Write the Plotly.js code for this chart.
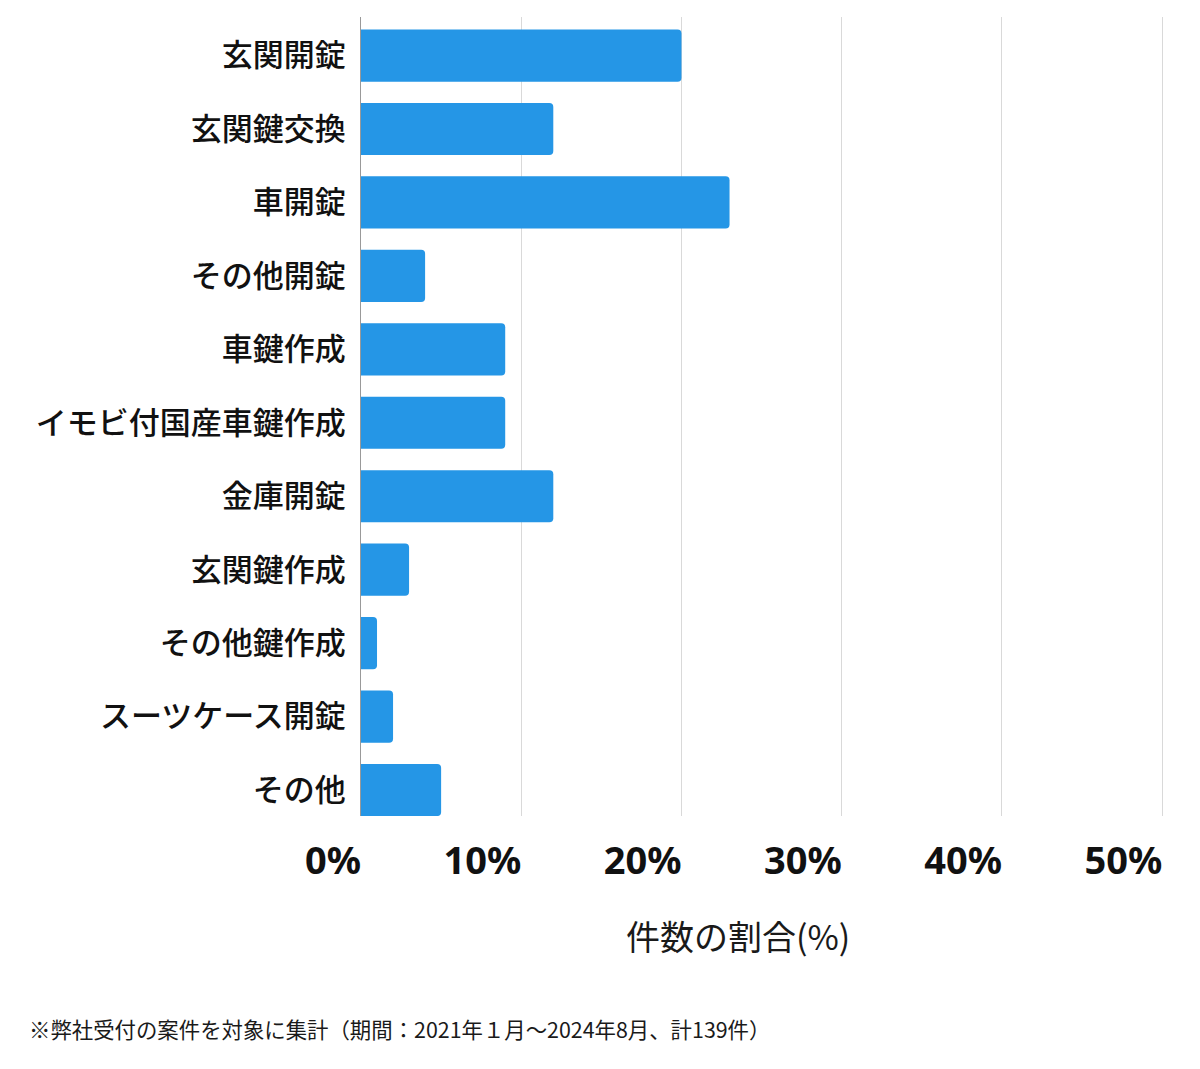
<!DOCTYPE html>
<html>
<head>
<meta charset="utf-8">
<script src="https://cdn.plot.ly/plotly-3.0.1.min.js"></script>
<style>
html,body{margin:0;padding:0;background:#fff;}
#chart{width:1200px;height:1069px;}
</style>
</head>
<body>
<div id="chart"></div>
<script>
const categories = ["玄関開錠","玄関鍵交換","車開錠","その他開錠","車鍵作成","イモビ付国産車鍵作成","金庫開錠","玄関鍵作成","その他鍵作成","スーツケース開錠","その他"];
const shares = [20, 12, 23, 4, 9, 9, 12, 3, 1, 2, 5];
const xTickValues = [0, 10, 20, 30, 40, 50];
const xTickLabels = ["0%", "10%", "20%", "30%", "40%", "50%"];
const xTitle = "件数の割合(%)";
const footnote = "※弊社受付の案件を対象に集計（期間：2021年１月～2024年8月、計139件）";

const W = 1200, H = 1069;
const L = 361, R = 33, T = 17, B = 253;
const pw = W - L - R, ph = H - T - B;

const trace = {
  type: "bar",
  orientation: "h",
  y: categories,
  x: shares,
  marker: {color: "#2596E6", cornerradius: 4},
  hoverinfo: "x+y"
};

const layout = {
  width: W, height: H,
  margin: {l: L, r: R, t: T, b: B, pad: 0},
  paper_bgcolor: "#fff",
  plot_bgcolor: "#fff",
  bargap: 0.29,
  showlegend: false,
  font: {family: "Noto Sans CJK JP, Noto Sans, sans-serif", color: "#1a1a1a"},
  xaxis: {
    range: [0, 50.3],
    tickvals: xTickValues,
    ticktext: xTickLabels,
    showgrid: true,
    gridcolor: "#d9d9d9",
    gridwidth: 1,
    zeroline: false,
    showline: false,
    ticks: "",
    ticklabelposition: "outside left",
    ticklabelstandoff: 19,
    tickfont: {family: "Noto Sans, Noto Sans CJK JP, sans-serif", size: 38, weight: "bold", color: "#111"},
    fixedrange: true
  },
  yaxis: {
    type: "category",
    range: [10.354, -0.525],
    showgrid: false,
    zeroline: false,
    showline: true,
    linecolor: "#999",
    linewidth: 1,
    ticks: "",
    ticklabelstandoff: 8,
    tickfont: {family: "Noto Sans CJK JP, sans-serif", size: 31, weight: 500, color: "#111"},
    fixedrange: true
  },
  annotations: [
    {
      text: xTitle,
      xref: "paper", yref: "paper",
      x: (738 - L) / pw, y: -(935 - (T + ph)) / ph,
      xanchor: "center", yanchor: "middle",
      showarrow: false,
      font: {family: "Noto Sans CJK JP, sans-serif", size: 34, color: "#1a1a1a"}
    },
    {
      text: footnote,
      xref: "paper", yref: "paper",
      x: (27 - L) / pw, y: -(1028 - (T + ph)) / ph,
      xanchor: "left", yanchor: "middle",
      showarrow: false,
      font: {family: "Noto Sans CJK JP, sans-serif", size: 21.4, color: "#1a1a1a"}
    }
  ]
};

Plotly.newPlot("chart", [trace], layout, {displayModeBar: false});
</script>
</body>
</html>
